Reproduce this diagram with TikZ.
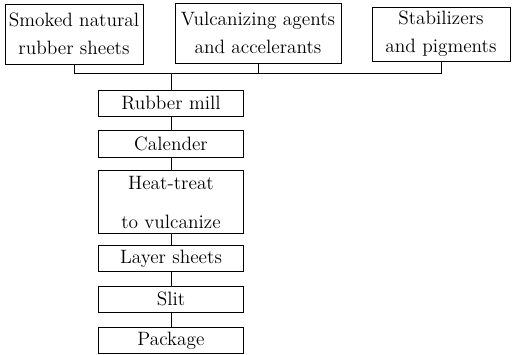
\documentclass[tikz,border=0pt]{standalone}
\usepackage{tikz}
\usetikzlibrary{positioning}

\begin{document}
\begin{tikzpicture}[
    block/.style={rectangle, draw, line width=0.5pt, align=center, inner sep=1pt, font=\fontsize{11}{16}\selectfont},
    step box/.style={block, minimum width=2.9cm, minimum height=0.53cm},
    line/.style={line width=0.5pt}
]
    \useasboundingbox (0,0) rectangle (10.24,-7.1);
    % Raw materials
    \node[block, minimum width=2.76cm, minimum height=1.2cm] (smoked) at (1.48,-0.68) {Smoked natural\\rubber sheets};
    \node[block, minimum width=3.32cm, minimum height=1.2cm] (vulcan) at (5.16,-0.66) {Vulcanizing agents\\and accelerants};
    \node[block, minimum width=2.76cm, minimum height=1.08cm] (stabil) at (8.82,-0.68) {Stabilizers\\and pigments};
    \coordinate (bus) at (3.42,-1.46);
    
    % Process steps
    \node[step box, below=0.33cm of bus] (mill) {Rubber mill};
    \node[step box, below=0.27cm of mill] (calender) {Calender};
    \node[step box, below=0.25cm of calender, minimum height=1.26cm] (heat) {Heat-treat\\[6pt]to vulcanize};
    \node[step box, below=0.21cm of heat] (layer) {Layer sheets};
    \node[step box, below=0.27cm of layer] (slit) {Slit};
    \node[step box, below=0.28cm of slit] (package) {Package};
    
    % Lines
    \draw[line] (smoked.south) -- (smoked.south |- bus) -- (stabil.south |- bus) -- (stabil.south);
    \draw[line] (vulcan.south) -- (vulcan.south |- bus);
    \draw[line] (bus) -- (mill);
    \draw[line] (mill) -- (calender);
    \draw[line] (calender) -- (heat);
    \draw[line] (heat) -- (layer);
    \draw[line] (layer) -- (slit);
    \draw[line] (slit) -- (package);
\end{tikzpicture}
\end{document}
